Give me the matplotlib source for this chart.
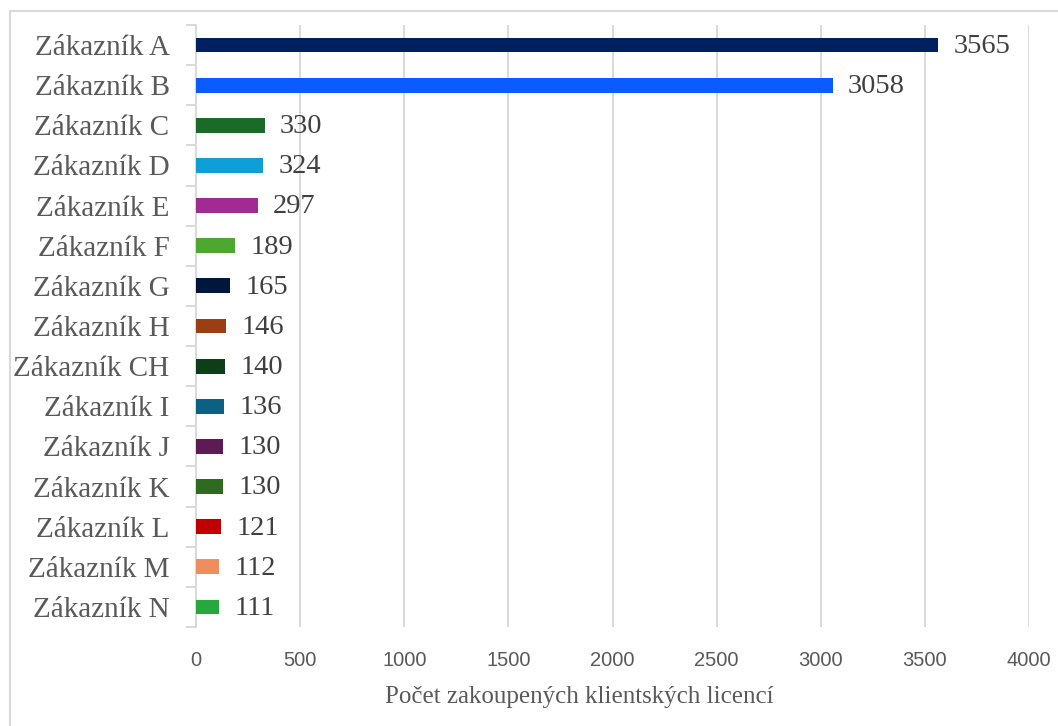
import matplotlib
matplotlib.use("Agg")
import matplotlib.pyplot as plt
from matplotlib.patches import Rectangle

# Data
customers = ["Zákazník A", "Zákazník B", "Zákazník C", "Zákazník D", "Zákazník E",
             "Zákazník F", "Zákazník G", "Zákazník H", "Zákazník CH", "Zákazník I",
             "Zákazník J", "Zákazník K", "Zákazník L", "Zákazník M", "Zákazník N"]
licences = [3565, 3058, 330, 324, 297, 189, 165, 146, 140, 136, 130, 130, 121, 112, 111]
bar_colors = ["#002060", "#0B5CFF", "#1A6B27", "#0E9FD8", "#A02B93",
              "#4EA72E", "#00163D", "#9A3F11", "#0E3E18", "#0A6183",
              "#5E1A55", "#2E6B1F", "#C00000", "#EE8E5E", "#28A83C"]
x_ticks = [0, 500, 1000, 1500, 2000, 2500, 3000, 3500, 4000]
x_title = "Počet zakoupených klientských licencí"

W, H = 1058, 726
fig = plt.figure(figsize=(W / 100, H / 100), dpi=100)
fig.patch.set_facecolor("white")

# chart-area frame
fig.patches.append(Rectangle((10 / W, -0.05), 1.1, (H - 11) / H + 0.05,
                             transform=fig.transFigure, fill=False,
                             edgecolor="#d9d9d9", linewidth=1.5, zorder=0))

ax = fig.add_axes([196 / W, (H - 627) / H, (1029 - 196) / W, (627 - 25) / H])

grid_c = "#d9d9d9"
serif = "Liberation Serif"

y = list(range(len(customers)))
ax.barh(y, licences, height=0.37, color=bar_colors, zorder=3)

for yi, v in zip(y, licences):
    ax.annotate(f"{v}", xy=(v, yi), xytext=(11, -1), textcoords="offset points",
                va="center", ha="left", fontsize=20.5, family=serif,
                color="#404040", zorder=4)

ax.set_xlim(0, 4000)
ax.set_ylim(len(customers) - 0.5, -0.5)

ax.set_xticks(x_ticks)
ax.set_xticklabels([str(t) for t in x_ticks], family="Liberation Sans",
                   fontsize=14.5, color="#595959")
ax.tick_params(axis="x", length=0, pad=17)

ax.set_yticks(y)
ax.set_yticklabels(customers, family=serif, fontsize=21, color="#595959")
ax.set_yticks([i - 0.5 for i in range(len(customers) + 1)], minor=True)
ax.tick_params(axis="y", which="major", length=0, pad=19)
ax.tick_params(axis="y", which="minor", length=7, width=1.4, color=grid_c)

ax.grid(axis="x", color=grid_c, linewidth=1.4, zorder=0)
ax.set_axisbelow(True)
for s in ["top", "right", "bottom"]:
    ax.spines[s].set_visible(False)
ax.spines["left"].set_color(grid_c)
ax.spines["left"].set_linewidth(1.4)

fig.text(579 / W, (H - 697) / H, x_title, ha="center", va="center",
         fontsize=18, family=serif, color="#595959")

fig.savefig("out.png", dpi=100)
